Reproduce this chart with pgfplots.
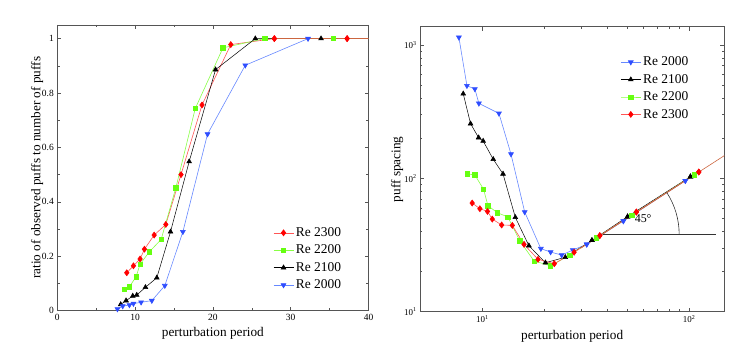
\documentclass[border=0pt]{standalone}
\usepackage{fontspec}
\setmainfont{Liberation Serif}
\usepackage{pgfplots}
\pgfplotsset{compat=1.18}
\definecolor{mred}{HTML}{FF0000}
\definecolor{lred}{HTML}{FF5555}
\definecolor{mgreen}{HTML}{66FF11}
\definecolor{lgreen}{HTML}{88FF44}
\definecolor{mblue}{HTML}{2E4DFF}
\definecolor{lblue}{HTML}{6688FF}
\definecolor{obrown}{HTML}{CC6640}
\definecolor{frame}{HTML}{555555}
\pgfplotsset{
  every axis/.append style={
    scale only axis,
    axis line style={frame, line width=0.6pt},
    tick style={frame, line width=0.5pt},
    major tick length=4bp, minor tick length=2.5bp,
    label style={font=\fontsize{13.3}{15}\selectfont},
    legend style={draw=none, fill=none, font=\fontsize{13.5}{15}\selectfont, row sep=3pt, inner sep=1pt},
    legend cell align=left,
    legend image code/.code={\draw[mark repeat=2,mark phase=2,##1] plot coordinates {(0bp,0bp)(10bp,0bp)(20bp,0bp)};},
  },
  sred/.style={color=lred, line width=0.6pt, mark=diamond*, mark size=3pt, mark options={fill=mred, draw=mred, solid}},
  sgreen/.style={color=lgreen, line width=0.6pt, mark=square*, mark size=2.2pt, mark options={fill=mgreen, draw=mgreen, solid}},
  sblack/.style={color=black, line width=0.5pt, mark=triangle*, mark size=2.8pt, mark options={fill=black, draw=black, solid}},
  sblue/.style={color=lblue, line width=0.6pt, mark=triangle*, mark size=2.8pt, mark options={fill=mblue, draw=mblue, solid, rotate=180}},
}
\begin{document}
\begin{tikzpicture}
\path[use as bounding box] (0,0) rectangle (736bp,351bp);
\begin{axis}[
  at={(57.3bp,40.3bp)}, anchor=south west,
  width=311.2bp, height=285.7bp,
  xmin=0, xmax=40, ymin=0, ymax=1.05,
  xtick={0,10,20,30,40}, minor x tick num=1,
  ytick={0,0.2,0.4,0.6,0.8,1}, minor y tick num=1,
  yticklabels={0,0.2,0.4,0.6,0.8,1},
  tick label style={font=\fontsize{9.5}{11}\selectfont},
  /pgf/number format/assume math mode=true,
  xlabel={perturbation period},
  ylabel={ratio of observed puffs to number of puffs},
  ylabel shift=-8bp,
  legend style={at={(0.69,0.302)}, anchor=north west},
]
\addplot[sred] coordinates {(8.93,0.1395)(9.79,0.165)(10.64,0.19)(11.2,0.226)(12.45,0.278)(13.95,0.317)(15.9,0.50)(18.6,0.756)(22.3,0.978)(27.9,1.0)(37.25,1.0)};
\addlegendentry{Re 2300}
\addplot[sgreen] coordinates {(8.58,0.0796)(9.27,0.088)(10.13,0.125)(10.64,0.171)(11.85,0.217)(13.35,0.262)(15.24,0.452)(17.73,0.743)(21.29,0.966)(26.65,1.0)(35.45,1.0)};
\addlegendentry{Re 2200}
\addplot[sblack] coordinates {(8.15,0.023)(8.84,0.037)(9.7,0.054)(10.21,0.0575)(11.33,0.086)(12.79,0.121)(14.55,0.29)(16.95,0.548)(20.34,0.886)(25.45,1.0)(33.9,1.0)};
\addlegendentry{Re 2100}
\addplot[sblue] coordinates {(7.73,0.006)(8.41,0.017)(9.27,0.021)(9.79,0.026)(10.77,0.031)(12.15,0.037)(13.82,0.092)(16.14,0.29)(19.31,0.649)(24.16,0.902)(32.23,1.0)};
\addlegendentry{Re 2000}
\addplot[obrown, line width=0.6pt, forget plot] coordinates {(28,1)(40,1)};
\addplot[sred, forget plot, only marks] coordinates {(27.9,1.0)(37.25,1.0)};
\end{axis}
\begin{axis}[
  at={(420bp,39.3bp)}, anchor=south west,
  width=304.3bp, height=285bp,
  xmode=log, ymode=log,
  xmin=5, xmax=148, ymin=10, ymax=1372,
  xtick={10,100}, xticklabels={10\textsuperscript{1},10\textsuperscript{2}},
  ytick={10,100,1000}, yticklabels={10\textsuperscript{1},10\textsuperscript{2},10\textsuperscript{3}},
  tick label style={font=\fontsize{9}{10}\selectfont},
  xlabel={perturbation period},
  ylabel={puff spacing},
  ylabel shift=-6bp,
  legend style={at={(0.655,0.905)}, anchor=north west},
]
\addplot[sblue] coordinates {(7.71,1141)(8.43,495)(9.21,468)(9.63,365)(12.04,307)(13.77,152)(16.04,55.9)(19.2,29.7)(21.4,28.0)(24.2,26.6)(27.4,29.0)(32.0,32.0)(48.1,47.9)(95.9,96.0)};
\addlegendentry{Re 2000}
\addplot[sblack] coordinates {(8.09,431)(8.78,257)(9.60,202)(10.1,190.5)(11.3,139)(12.6,108)(14.45,51)(16.8,31.3)(20.2,23.3)(25.2,25.6)(33.9,34.3)(50.4,51.6)(101.5,103)};
\addlegendentry{Re 2100}
\addplot[sgreen] coordinates {(8.49,108)(9.21,106)(10.15,82.7)(10.65,62.4)(11.82,55.3)(13.3,51.3)(15.17,34.1)(17.8,24.0)(21.4,22.1)(26.5,26.6)(35.7,35.9)(52.9,53.1)(105.7,106.5)};
\addlegendentry{Re 2200}
\addplot[sred] coordinates {(8.94,65.3)(9.74,59.2)(10.6,56.5)(11.18,49.5)(12.41,44.7)(13.97,44.4)(15.92,32.0)(18.6,24.7)(22.3,22.9)(27.8,27.9)(37.0,37.2)(55.6,55.9)(111.4,111.6)};
\addlegendentry{Re 2300}
\addplot[obrown, line width=0.6pt, forget plot] coordinates {(30,30)(150,150)};
\addplot[sblue, only marks, forget plot] coordinates {(32.0,32.0)(48.1,47.9)(95.9,96.0)};
\addplot[sblack, only marks, forget plot] coordinates {(33.9,34.3)(50.4,51.6)(101.5,103)};
\addplot[sgreen, only marks, forget plot] coordinates {(35.7,35.9)(52.9,53.1)(105.7,106.5)};
\addplot[sred, only marks, forget plot] coordinates {(37.0,37.2)(55.6,55.9)(111.4,111.6)};
\addplot[black!80, line width=0.6pt, forget plot] coordinates {(38.5,38)(135,38)};
\coordinate (ctr) at (axis cs:38,38);
\node[font=\fontsize{12}{13}\selectfont, anchor=west, inner sep=0pt] at (axis cs:54.5,49.5) {45\textdegree};
\end{axis}
\draw[black!80, line width=0.6pt] ([xshift=77bp]ctr) arc[start angle=0, end angle=33, radius=77bp];
\end{tikzpicture}
\end{document}
